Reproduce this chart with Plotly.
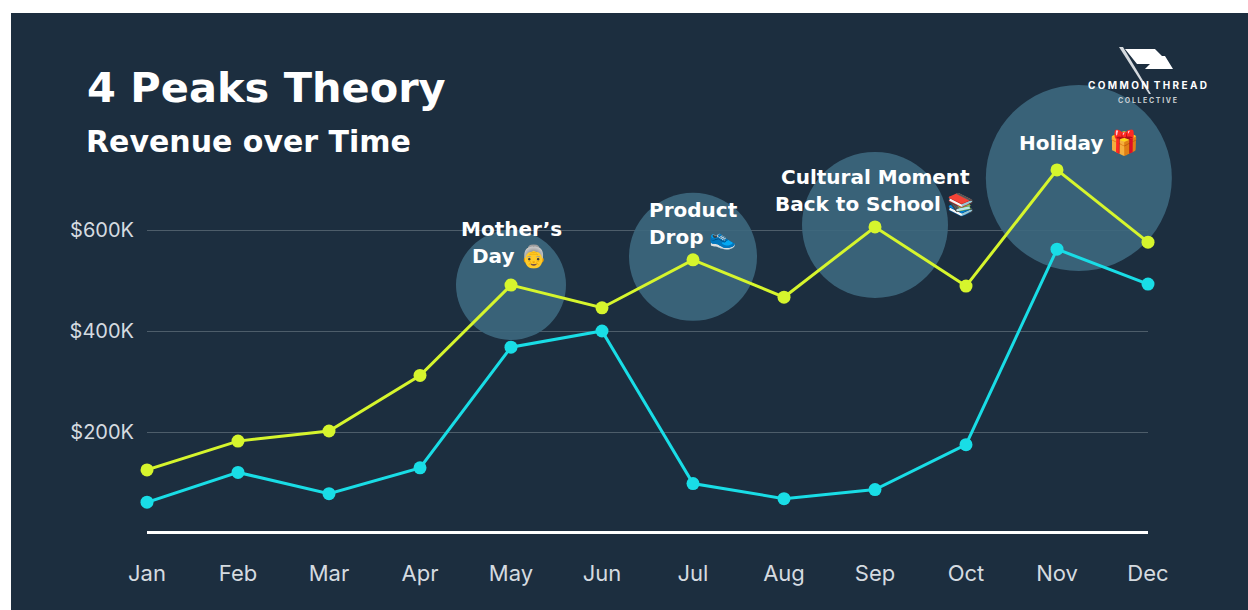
import plotly.graph_objects as go

months = ["Jan","Feb","Mar","Apr","May","Jun","Jul","Aug","Sep","Oct","Nov","Dec"]
month_pos = list(range(12))
revenue_yellow = [125,182,202,312,491,446,541,467,606,489,719,576]
revenue_cyan = [61,120,78,129,368,400,98,68,86,175,562,493]
peak_x = [4.0,6.0,8.0,10.24]
peak_y = [491,547,610,703]
peak_size = [110,128,146,186]
y_ticks = [200,400,600]
y_labels = ["$200K","$400K","$600K"]

W,H = 1248,610
L,R,T,B = 147,100,129,79
PW,PH = W-L-R,H-T-B
px = lambda x:(x-L)/PW
py = lambda y:1-(y-T)/PH
FONT = "Inter, Lato, sans-serif"
HEAD = "DejaVu Sans, sans-serif"

fig = go.Figure()
fig.add_trace(go.Scatter(x=peak_x,y=peak_y,mode="markers",cliponaxis=False,hoverinfo="skip",
    marker=dict(size=peak_size,color="rgba(61,104,126,0.9)",opacity=1,line=dict(width=0))))
fig.add_trace(go.Scatter(x=month_pos,y=revenue_cyan,mode="lines+markers",cliponaxis=False,
    line=dict(color="#19dde6",width=3),marker=dict(size=13,color="#19dde6")))
fig.add_trace(go.Scatter(x=month_pos,y=revenue_yellow,mode="lines+markers",cliponaxis=False,
    line=dict(color="#d6f52d",width=3),marker=dict(size=13,color="#d6f52d")))

shapes = [dict(type="rect",xref="paper",yref="paper",layer="below",
    x0=px(11),x1=px(1248),y0=py(610),y1=py(13),fillcolor="#1c2e3f",line=dict(width=0))]
def path(points,fill):
    d = "M"+" L".join(f"{px(a):.5f},{py(b):.5f}" for a,b in points)+" Z"
    return dict(type="path",xref="paper",yref="paper",path=d,fillcolor=fill,line=dict(width=0))
shapes += [path([(1125,49),(1155,49),(1162,56),(1165,56),(1173,69),(1145,69),(1150,64),(1137,64)],"#ffffff"),
           path([(1119,47),(1123,47),(1151,94),(1149,94)],"#d5dade")]
def text(x,y,s,size,color="#ffffff",bold=True,anchor="center",family=HEAD):
    return dict(xref="paper",yref="paper",x=px(x),y=py(y),text=f"<b>{s}</b>" if bold else s,showarrow=False,
        xanchor=anchor,yanchor="middle",font=dict(family=family,size=size,color=color))
ann = [text(85,88,"4 Peaks Theory",41.5,anchor="left"),
       text(84,141,"Revenue over Time",30,anchor="left"),
       text(511,229,"Mother’s",20),text(493,256,"Day",20),text(533,256,"👵",22,family=FONT),
       text(693,210,"Product",20),text(676,237,"Drop",20),text(722,237,"👟",22,family=FONT),
       text(875,177,"Cultural Moment",20),text(858,204,"Back to School",20),text(960,204,"📚",22,family=FONT),
       text(1061,143,"Holiday",20),text(1124,143,"🎁",24,family=FONT),
       text(1147,85,"C O M M O N &nbsp;T H R E A D",10,family=FONT),
       text(1147,100,"C O L L E C T I V E",7,color="#c8ced3",family=FONT)]

fig.update_layout(width=W,height=H,margin=dict(l=L,r=R,t=T,b=B),showlegend=False,
    paper_bgcolor="#ffffff",plot_bgcolor="rgba(0,0,0,0)",shapes=shapes,annotations=ann,
    xaxis=dict(range=[0,11],tickvals=month_pos,ticktext=months,showgrid=False,zeroline=False,showline=True,
        linecolor="#ffffff",linewidth=3,ticks="",ticklabelstandoff=21,
        tickfont=dict(family=FONT,size=22,color="#d5dbe0")),
    yaxis=dict(range=[4,800],tickvals=y_ticks,ticktext=y_labels,showgrid=True,gridcolor="#4d5d6a",gridwidth=1,
        zeroline=False,ticks="",ticklabelstandoff=12,tickfont=dict(family=FONT,size=20,color="#d5dbe0")))
fig.write_html("out.html",config=dict(displayModeBar=False),post_script="document.body.style.margin='0';")
